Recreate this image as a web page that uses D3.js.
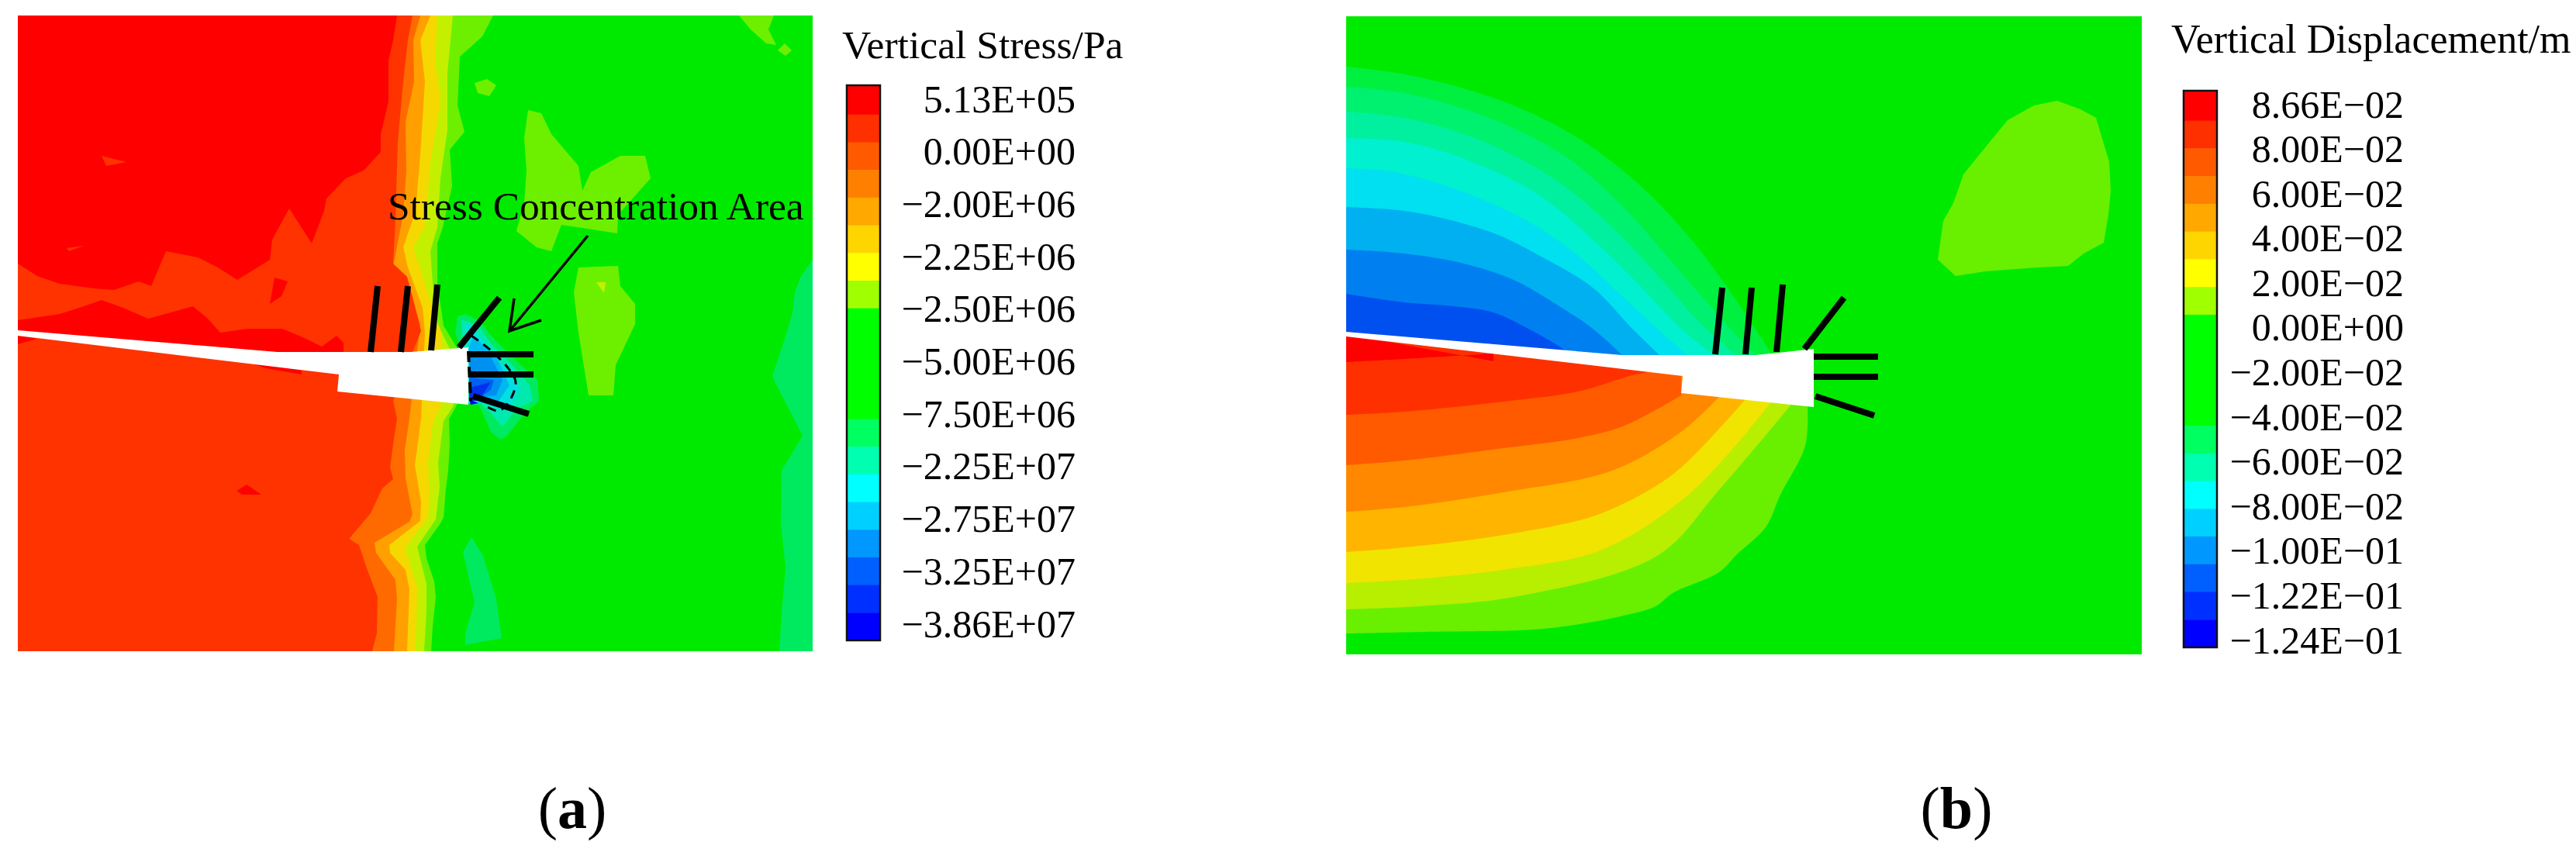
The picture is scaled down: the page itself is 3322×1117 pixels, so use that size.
<!DOCTYPE html>
<html>
<head>
<meta charset="utf-8">
<script src="https://cdn.jsdelivr.net/npm/d3@7"></script>
<style>
  html, body { margin: 0; background: #fff; }
  text { font-family: "Liberation Serif", serif; fill: #000; }
</style>
</head>
<body>
<div id="chart"></div>
<script>
// ---------- colour bars ----------
var barColors = ["#ff0000", "#ff3000", "#ff5a00", "#ff7f00", "#ffa800", "#ffd500", "#ffff00", "#a0ff00",
  "#00ff00", "#00ff60", "#00ffb0", "#00ffff", "#00d0ff", "#0098ff", "#0060ff", "#0030ff", "#0000ff"];
var barSpans = [1, 1, 1, 1, 1, 1, 1, 1, 4, 1, 1, 1, 1, 1, 1, 1, 1];

var stressLabels = ["5.13E+05", "0.00E+00", "−2.00E+06", "−2.25E+06", "−2.50E+06", "−5.00E+06",
  "−7.50E+06", "−2.25E+07", "−2.75E+07", "−3.25E+07", "−3.86E+07"];
var dispLabels = ["8.66E−02", "8.00E−02", "6.00E−02", "4.00E−02", "2.00E−02", "0.00E+00", "−2.00E−02",
  "−4.00E−02", "−6.00E−02", "−8.00E−02", "−1.00E−01", "−1.22E−01", "−1.24E−01"];

// ---------- panel a, contour edges (mesh units) ----------
var aLimeEdge = [[613,0],[599,27],[570,53],[567,116],[576,150],[557,173],[560,220],[548,273],[541,294],[541,346],[549,400],[567,430],[567,500],[562,510],[556,520],[557,553],[555,587],[552,610],[549,647],[545,655],[525,683],[527,700],[537,730],[539,750],[535,787],[533,820]];
var aYgEdge = [[561,0],[554,74],[554,147],[545,210],[541,273],[532,304],[535,346],[542,400],[557,430],[562,503],[549,523],[542,577],[544,607],[539,650],[515,685],[527,733],[527,767],[524,820]];
var aYellowEdge = [[541,0],[538,58],[545,111],[532,189],[525,273],[510,299],[522,336],[538,388],[547,410],[547,500],[535,527],[529,577],[531,620],[529,648],[499,687],[515,737],[514,787],[512,820]];
var aOrangeEdge = [[532,0],[519,32],[525,85],[519,179],[513,252],[497,299],[503,325],[522,377],[525,410],[520,520],[512,580],[520,627],[519,652],[479,683],[480,693],[500,715],[505,740],[502,820]];
var aDarkOrangeEdge = [[519,0],[510,32],[511,85],[500,137],[501,200],[497,257],[484,323],[506,357],[519,398],[505,520],[499,560],[500,597],[509,643],[505,653],[460,680],[462,693],[487,728],[489,753],[485,820]];
var aRedOrangeEdge = [[509,0],[503,32],[497,85],[490,163],[487,262],[484,320],[502,337],[510,367],[520,407],[484,497],[489,520],[484,553],[480,583],[484,598],[470,610],[455,642],[427,675],[440,683],[450,713],[464,750],[463,797],[457,820]];

var aBands = [aLimeEdge, aYgEdge, aYellowEdge, aOrangeEdge, aDarkOrangeEdge, aRedOrangeEdge];
var aBandColors = ["#6cf000", "#c4f000", "#f5d800", "#ffa000", "#ff6a00", "#ff3300"];

var aRedUpper = [[0,0],[489,0],[484,32],[478,58],[478,111],[468,153],[468,176],[446,200],[423,210],[398,236],[395,252],[379,294],[350,249],[328,289],[325,315],[309,325],[283,341],[258,325],[232,312],[191,304],[172,349],[156,343],[124,354],[98,352],[54,346],[25,336],[0,320]];
var aRedMiddle = [[0,393],[54,385],[79,377],[108,367],[136,377],[168,391],[226,375],[245,391],[261,409],[296,404],[341,404],[372,417],[392,427],[411,413],[420,422],[420,440],[0,410]];
var aRedBits = [
  [[0,413],[0,424],[25,417]],
  [[296,447],[366,458],[366,463],[320,455]],
  [[282,613],[295,605],[314,618],[289,618]],
  [[325,372],[331,338],[348,343],[340,362]]
];
var aOrangeBits = [
  [[108,181],[140,189],[114,194]],
  [[63,300],[85,297],[66,304]]
];
var aLimeIslands = [
  [[589,87],[605,82],[617,90],[608,104],[593,100]],
  [[658,122],[675,126],[688,153],[723,194],[728,226],[739,202],[777,181],[809,181],[816,210],[774,257],[773,281],[701,270],[688,304],[669,299],[643,278],[653,242],[656,200],[653,158]],
  [[723,325],[774,323],[777,349],[796,372],[796,398],[771,451],[768,490],[736,490],[723,409],[717,357]],
  [[930,0],[975,0],[968,18],[978,38],[965,36],[945,18]],
  [[980,45],[989,36],[998,45],[990,52]]
];
var aYellowFleck = [[746,344],[758,344],[756,358]];
var aTealRight = [[1025,315],[1010,336],[1002,357],[999,383],[990,414],[977,453],[973,465],[977,474],[1012,542],[985,587],[984,655],[990,712],[985,770],[982,820],[1025,820]];
var aTealBottom = [[585,673],[574,692],[589,757],[577,797],[577,812],[624,803],[617,753],[600,697]];

// stress concentration patch at the roadway head, outer layer first
var aPatchLayers = [
  [[567,388],[577,385],[597,395],[610,413],[637,440],[670,470],[672,497],[654,513],[630,543],[622,547],[610,537],[595,503],[580,500],[570,425],[564,410]],
  [[572,392],[594,400],[610,423],[634,447],[660,477],[664,497],[644,507],[625,530],[610,513],[597,500],[580,500],[574,423]],
  [[577,397],[590,407],[610,433],[634,460],[647,480],[640,497],[624,510],[604,500],[584,500],[580,427]],
  [[587,413],[617,440],[634,477],[620,497],[584,497],[581,433]],
  [[581,432],[610,440],[625,470],[617,490],[587,493]],
  [[582,467],[614,470],[610,483],[590,497],[582,497]],
  [[582,480],[610,473],[594,497],[582,497]],
  [[582,495],[594,500],[584,502]]
];
var aPatchColors = ["#00ea60", "#00eab0", "#00e0e0", "#00b8f0", "#0090f0", "#0060f0", "#0030f0", "#0000ff"];

var aRoadway = [[0,406],[334,434],[507,434],[581,428],[581,502],[412,485],[414,463],[0,413]];
var aBolts = [
  [[464,349],[455,434]], [[503,349],[494,434]], [[541,347],[533,432]], [[621,364],[569,428]],
  [[581,437],[665,437]], [[584,463],[665,463]], [[587,491],[659,514]]
];
var aDashArc = [[585,413],[610,432],[634,457],[642,473],[634,497],[620,510],[604,504]];
var aDashHead = [[581,433],[584,497]];
var aArrowShaft = [[735,284],[634,407]];
var aArrowHead = [[640,365],[634,407],[675,393]];

// ---------- panel b ----------
var bUpperEdges = [
  [[0,65],[82,76],[203,110],[299,157],[381,220],[445,288],[496,356],[550,437]],
  [[0,91],[75,99],[184,131],[286,183],[362,251],[426,324],[490,397],[528,437]],
  [[0,123],[75,131],[171,159],[267,209],[343,272],[407,340],[458,397],[503,437]],
  [[0,157],[75,162],[158,186],[248,230],[318,288],[381,350],[432,403],[474,437]],
  [[0,196],[63,201],[152,227],[228,261],[292,303],[356,361],[401,403],[440,437]],
  [[0,246],[75,251],[139,264],[196,282],[248,308],[318,350],[369,403],[404,437]],
  [[0,301],[75,306],[152,319],[216,340],[267,369],[318,403],[356,437]],
  [[0,358],[75,369],[139,374],[190,382],[235,403],[267,421],[292,437]]
];
var bUpperColors = ["#00f040", "#00f070", "#00f0a0", "#00f0d0", "#00e0f0", "#00b0f0", "#0080f0", "#0050f0"];
var bLowerEdges = [
  [[0,796],[101,794],[241,791],[301,784],[354,774],[399,761],[421,744],[481,717],[504,694],[541,659],[560,617],[592,554],[595,502]],
  [[0,765],[94,761],[222,748],[401,696],[480,612],[573,502]],
  [[0,731],[75,727],[203,714],[330,688],[445,614],[547,499]],
  [[0,691],[75,685],[203,669],[324,643],[407,601],[445,570],[515,494]],
  [[0,639],[75,633],[203,614],[343,586],[432,536],[480,492]],
  [[0,579],[75,573],[203,557],[299,544],[359,528],[432,489]],
  [[0,514],[75,510],[203,497],[299,484],[369,463],[394,458]],
  [[0,446],[75,442],[190,435]]
];
var bLowerColors = ["#68f000", "#b8ee00", "#f0e400", "#ffb400", "#ff8800", "#ff5a00", "#ff3000", "#ff0000"];
var bIsland = [[783,241],[796,204],[821,173],[853,134],[887,115],[917,109],[947,120],[967,131],[984,188],[986,225],[983,256],[977,292],[951,306],[931,322],[891,324],[824,329],[786,335],[763,314],[770,264]];
var bRoadway = [[0,407],[356,437],[528,437],[603,429],[603,504],[432,486],[434,464],[0,413]];
var bBolts = [
  [[485,350],[476,436]], [[523,350],[515,436]], [[563,346],[555,433]], [[642,363],[591,429]],
  [[603,439],[686,439]], [[603,465],[686,465]], [[605,490],[681,515]]
];

// ---------- scales ----------
var svg = d3.select("#chart").append("svg")
  .attr("width", 3322)
  .attr("height", 1117)
  .style("display", "block");

var xA = d3.scaleLinear().domain([0, 1025]).range([23, 1048]);
var yA = d3.scaleLinear().domain([0, 820]).range([20, 840]);
var xB = d3.scaleLinear().domain([0, 1026]).range([1736, 2762]);
var yB = d3.scaleLinear().domain([0, 823]).range([21, 844]);

var lineA = d3.line().x(d => xA(d[0])).y(d => yA(d[1]));
var lineB = d3.line().x(d => xB(d[0])).y(d => yB(d[1]));
var smoothB = d3.line().x(d => xB(d[0])).y(d => yB(d[1])).curve(d3.curveCatmullRom);

function area(g, line, pts, color) {
  g.append("path").attr("d", line(pts) + "Z").attr("fill", color);
}

// smooth contour edge, closed with straight lines inside the roadway
function smoothArea(g, edge, closing, color) {
  var tail = closing.map(d => "L" + xB(d[0]) + "," + yB(d[1])).join("");
  g.append("path").attr("d", smoothB(edge) + tail + "Z").attr("fill", color);
}

// ---------- panel a ----------
var panelA = svg.append("g");
panelA.append("rect")
  .attr("x", xA(0)).attr("y", yA(0))
  .attr("width", xA(1025) - xA(0)).attr("height", yA(820) - yA(0))
  .attr("fill", "#00ea00");

aBands.forEach(function(edge, i) {
  area(panelA, lineA, [[0, 0]].concat(edge, [[0, 820]]), aBandColors[i]);
});
area(panelA, lineA, aRedUpper, "#ff0000");
area(panelA, lineA, aRedMiddle, "#ff0000");
aRedBits.forEach(p => area(panelA, lineA, p, "#ff0000"));
aOrangeBits.forEach(p => area(panelA, lineA, p, "#ff3300"));
aLimeIslands.forEach(p => area(panelA, lineA, p, "#6cf000"));
area(panelA, lineA, aYellowFleck, "#c4f000");
area(panelA, lineA, aTealRight, "#00ea60");
area(panelA, lineA, aTealBottom, "#00ea60");
aPatchLayers.forEach((p, i) => area(panelA, lineA, p, aPatchColors[i]));
area(panelA, lineA, aRoadway, "#fff");

panelA.append("path")
  .attr("d", d3.line().x(d => xA(d[0])).y(d => yA(d[1])).curve(d3.curveCatmullRom)(aDashArc))
  .attr("fill", "none").attr("stroke", "#000").attr("stroke-width", 3)
  .attr("stroke-dasharray", "11,8");
panelA.append("path")
  .attr("d", lineA(aDashHead))
  .attr("fill", "none").attr("stroke", "#000").attr("stroke-width", 4)
  .attr("stroke-dasharray", "14,6");

aBolts.forEach(function(b) {
  panelA.append("path").attr("d", lineA(b))
    .attr("stroke", "#000").attr("stroke-width", 8).attr("fill", "none");
});

panelA.append("path").attr("d", lineA(aArrowShaft))
  .attr("stroke", "#000").attr("stroke-width", 3.5).attr("fill", "none");
panelA.append("path").attr("d", lineA(aArrowHead))
  .attr("stroke", "#000").attr("stroke-width", 3.5).attr("fill", "none");

panelA.append("text")
  .attr("x", 500).attr("y", 283)
  .style("font-size", "51.4px")
  .text("Stress Concentration Area");

// ---------- panel b ----------
var panelB = svg.append("g");
panelB.append("rect")
  .attr("x", xB(0)).attr("y", yB(0))
  .attr("width", xB(1026) - xB(0)).attr("height", yB(823) - yB(0))
  .attr("fill", "#00ea00");

area(panelB, lineB, bIsland, "#68f000");

bUpperEdges.forEach(function(edge, i) {
  var last = edge[edge.length - 1];
  smoothArea(panelB, edge, [[last[0], 440], [356, 440], [0, 410]], bUpperColors[i]);
});
bLowerEdges.forEach(function(edge, i) {
  var last = edge[edge.length - 1];
  smoothArea(panelB, edge, [[last[0], last[0] > 432 ? 470 : 445], [0, 410]], bLowerColors[i]);
});
area(panelB, lineB, bRoadway, "#fff");

bBolts.forEach(function(b) {
  panelB.append("path").attr("d", lineB(b))
    .attr("stroke", "#000").attr("stroke-width", 8).attr("fill", "none");
});

// ---------- colour bars ----------
function colorBar(left, right, top, firstEdge, bottom, title, titleX, titleY, titleSize, labels, labelTop, labelBottom, labelEnd) {
  var g = svg.append("g");
  var y = d3.scaleLinear().domain([firstEdge, 20]).range([top, bottom]);
  var start = [0].concat(Array.from(d3.cumsum(barSpans)));

  barColors.forEach(function(c, i) {
    g.append("rect")
      .attr("x", left)
      .attr("y", y(i === 0 ? firstEdge : start[i]))
      .attr("width", right - left)
      .attr("height", y(start[i + 1]) - y(i === 0 ? firstEdge : start[i]) + 0.5)
      .attr("fill", c);
  });
  g.append("rect")
    .attr("x", left).attr("y", top)
    .attr("width", right - left).attr("height", bottom - top)
    .attr("fill", "none").attr("stroke", "#111").attr("stroke-width", 2.5);

  var ly = d3.scalePoint().domain(labels).range([labelTop, labelBottom]);
  g.selectAll(".lab")
    .data(labels)
    .enter()
    .append("text")
    .attr("x", labelEnd)
    .attr("y", d => ly(d))
    .attr("dy", "0.33em")
    .attr("text-anchor", "end")
    .style("font-size", "50px")
    .text(d => d);

  g.append("text")
    .attr("x", titleX).attr("y", titleY)
    .style("font-size", titleSize + "px")
    .text(title);
}

colorBar(1092, 1135, 110, -0.06, 826, "Vertical Stress/Pa", 1086, 75, 51.6, stressLabels, 128, 805, 1387);
colorBar(2816, 2859, 117, -0.08, 835, "Vertical Displacement/m", 2800, 68, 52, dispLabels, 135, 826, 3100);

// ---------- captions ----------
function caption(x, letter) {
  var t = svg.append("text")
    .attr("x", x).attr("y", 1068)
    .attr("text-anchor", "middle")
    .style("font-size", "76px");
  t.append("tspan").text("(");
  t.append("tspan").style("font-weight", "bold").text(letter);
  t.append("tspan").text(")");
}
caption(738, "a");
caption(2523, "b");
</script>
</body>
</html>
